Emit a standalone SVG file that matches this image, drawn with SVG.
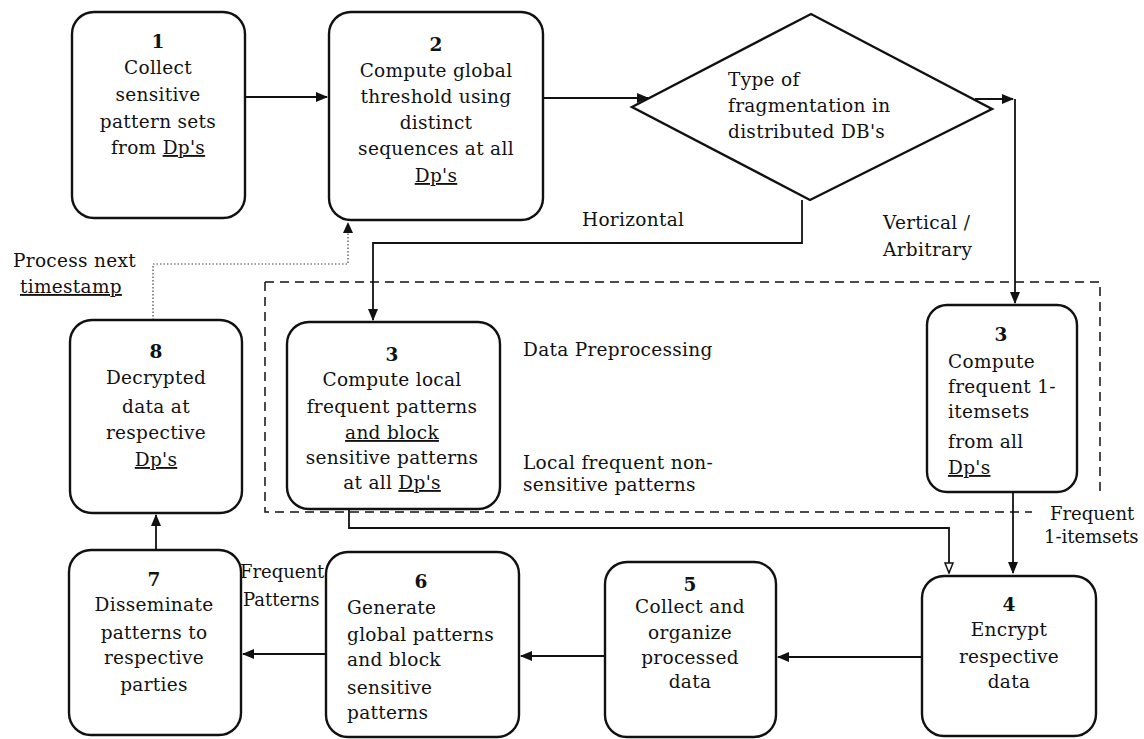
<svg xmlns="http://www.w3.org/2000/svg" width="1144" height="739" viewBox="0 0 1144 739">
<style>
text{font-family:"DejaVu Serif","Liberation Serif",serif;font-size:18.5px;letter-spacing:0.3px;fill:#111}
.c{text-anchor:middle}
.s{font-size:18px;letter-spacing:0}
.box{fill:#fff;stroke:#111;stroke-width:2.4}
.ln{fill:none;stroke:#111;stroke-width:1.8}
.dot{fill:none;stroke:#444;stroke-width:1.2;stroke-dasharray:1.5 2}
.dash{fill:none;stroke:#111;stroke-width:1.5;stroke-dasharray:9 6}
.b{font-weight:bold}
.sq{text-decoration:underline dotted}
</style>
<defs>
<marker id="ah" markerWidth="12" markerHeight="10" refX="11" refY="5" orient="auto" markerUnits="userSpaceOnUse"><path d="M0,0 L12,5 L0,10 z" fill="#111"/></marker>
<marker id="aho" markerWidth="12" markerHeight="10" refX="11" refY="5" orient="auto" markerUnits="userSpaceOnUse"><path d="M1,1 L11,5 L1,9 z" fill="#fff" stroke="#111" stroke-width="1.5"/></marker>
</defs>
<rect width="1144" height="739" fill="#fff"/>

<g id="preprocessing-region">
<path class="dash" d="M265,282 H1100 V497"/>
<path class="dash" d="M265,282 V512 H1032"/>
<text x="523" y="356">Data Preprocessing</text>
<text x="523" y="469">Local frequent non-</text>
<text x="523" y="491">sensitive patterns</text>
</g>

<g id="connectors">
<path class="ln" d="M245,97 H327" marker-end="url(#ah)"/>
<path class="ln" d="M543,98 H648" marker-end="url(#ah)"/>
<path class="ln" d="M975,99 H1013" marker-end="url(#ah)"/>
<path class="ln" d="M1015,99 V303" marker-end="url(#ah)"/>
<path class="ln" d="M802,200 V243 H373 V320" marker-end="url(#ah)"/>
<path class="ln" d="M1013,492 V573" marker-end="url(#ah)"/>
<path class="ln" d="M349,508 V528 H949 V573" marker-end="url(#aho)"/>
<path class="ln" d="M922,657 H778" marker-end="url(#ah)"/>
<path class="ln" d="M605,656 H521" marker-end="url(#ah)"/>
<path class="ln" d="M326,654 H243" marker-end="url(#ah)"/>
<path class="ln" d="M156,550 V515" marker-end="url(#ah)"/>
<path class="dot" d="M153,320 V264 H348 V232"/>
<path d="M348,222 L343,233 L353,233 z" fill="#111"/>
<text x="582" y="226">Horizontal</text>
<text x="883" y="229">Vertical /</text>
<text x="883" y="256">Arbitrary</text>
<text x="13" y="267">Process next</text>
<text x="20" y="293"><tspan class="sq">timestamp</tspan></text>
<text class="s" x="1050" y="520">Frequent</text>
<text class="s" x="1044" y="543">1-itemsets</text>
<text class="s" x="240" y="578">Frequent</text>
<text class="s" x="243" y="606">Patterns</text>
</g>

<g id="node1">
<rect class="box" x="72" y="12" width="173" height="206" rx="22"/>
<text class="c b" x="158" y="48">1</text>
<text class="c" x="158" y="74">Collect</text>
<text class="c" x="158" y="101">sensitive</text>
<text class="c" x="158" y="128">pattern sets</text>
<text class="c" x="158" y="154">from <tspan class="sq">Dp's</tspan></text>
</g>

<g id="node2">
<rect class="box" x="329" y="12" width="214" height="208" rx="22"/>
<text class="c b" x="436" y="51">2</text>
<text class="c" x="436" y="77">Compute global</text>
<text class="c" x="436" y="103">threshold using</text>
<text class="c" x="436" y="129">distinct</text>
<text class="c" x="436" y="155">sequences at all</text>
<text class="c" x="436" y="182"><tspan class="sq">Dp's</tspan></text>
</g>

<g id="decision">
<path class="box" d="M632,107 L811,14 L992,109 L810,200 z"/>
<text x="728" y="86">Type of</text>
<text x="728" y="112">fragmentation in</text>
<text x="728" y="138">distributed DB's</text>
</g>

<g id="node3-local">
<rect class="box" x="287" y="322" width="213" height="187" rx="22"/>
<text class="c b" x="392" y="361">3</text>
<text class="c" x="392" y="386">Compute local</text>
<text class="c" x="392" y="413">frequent patterns</text>
<text class="c" x="392" y="439"><tspan class="sq">and block</tspan></text>
<text class="c" x="392" y="464">sensitive patterns</text>
<text class="c" x="392" y="489">at all <tspan class="sq">Dp's</tspan></text>
</g>

<g id="node3-itemsets">
<rect class="box" x="927" y="305" width="150" height="187" rx="20"/>
<text class="c b" x="1001" y="341">3</text>
<text x="948" y="368">Compute</text>
<text x="948" y="393">frequent 1-</text>
<text x="948" y="418">itemsets</text>
<text x="948" y="448">from all</text>
<text x="948" y="474"><tspan class="sq">Dp's</tspan></text>
</g>

<g id="node8">
<rect class="box" x="70" y="320" width="172" height="193" rx="22"/>
<text class="c b" x="156" y="358">8</text>
<text class="c" x="156" y="384">Decrypted</text>
<text class="c" x="156" y="413">data at</text>
<text class="c" x="156" y="439">respective</text>
<text class="c" x="156" y="466"><tspan class="sq">Dp's</tspan></text>
</g>

<g id="node7">
<rect class="box" x="69" y="550" width="172" height="185" rx="22"/>
<text class="c b" x="154" y="586">7</text>
<text class="c" x="154" y="611">Disseminate</text>
<text class="c" x="154" y="639">patterns to</text>
<text class="c" x="154" y="664">respective</text>
<text class="c" x="154" y="691">parties</text>
</g>

<g id="node6">
<rect class="box" x="326" y="552" width="193" height="185" rx="22"/>
<text class="c b" x="421" y="588">6</text>
<text x="347" y="614">Generate</text>
<text x="347" y="641">global patterns</text>
<text x="347" y="666">and block</text>
<text x="347" y="694">sensitive</text>
<text x="347" y="719">patterns</text>
</g>

<g id="node5">
<rect class="box" x="605" y="562" width="171" height="175" rx="22"/>
<text class="c b" x="690" y="591">5</text>
<text class="c" x="690" y="613">Collect and</text>
<text class="c" x="690" y="639">organize</text>
<text class="c" x="690" y="664">processed</text>
<text class="c" x="690" y="688">data</text>
</g>

<g id="node4">
<rect class="box" x="922" y="576" width="174" height="160" rx="22"/>
<text class="c b" x="1009" y="611">4</text>
<text class="c" x="1009" y="636">Encrypt</text>
<text class="c" x="1009" y="663">respective</text>
<text class="c" x="1009" y="688">data</text>
</g>
</svg>
